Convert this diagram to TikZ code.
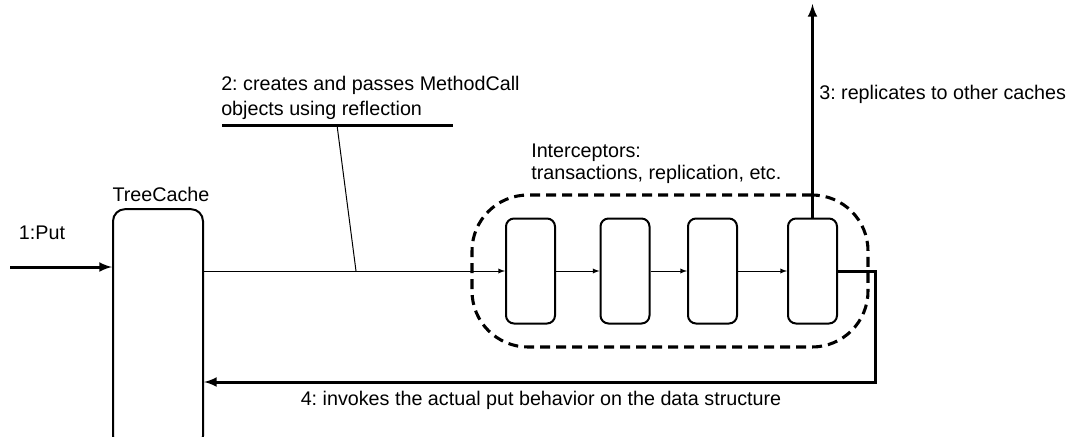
\documentclass[tikz,border=0pt]{standalone}
\usepackage{fontspec}
\setmainfont{Liberation Sans}
\usetikzlibrary{arrows}
\usetikzlibrary{positioning}
\frenchspacing

\begin{document}
\begin{tikzpicture}[x=0.75pt, y=-0.75pt,
    every node/.style={font=\fontsize{14.8}{18}\selectfont},
    box/.style={draw, line width=1.5pt, rounded corners=6pt, inner sep=0pt},
    label/.style={inner sep=0pt},
    thinarrow/.style={-latex, line width=0.75pt},
    thickarrow/.style={-latex, line width=2.25pt}]
  \useasboundingbox (0,0) rectangle (1070,436);

  % TreeCache
  \node[box, rounded corners=9pt, minimum width=67.5pt, minimum height=179pt] (tc) at (158,328.5) {};
  \node[label] (tclabel) at (161,194.5) {TreeCache};

  % Interceptor chain
  \node[box, minimum width=36.75pt, minimum height=78.75pt] (i1) at (530.5,271) {};
  \node[box, minimum width=36.75pt, minimum height=78.75pt] (i2) at (625,271) {};
  \node[box, minimum width=36.75pt, minimum height=78.75pt] (i3) at (712.5,271) {};
  \node[box, minimum width=36.75pt, minimum height=78.75pt] (i4) at (812.5,271) {};
  \node[draw, dash pattern=on 7.5pt off 4.5pt, line width=2.3pt, rounded corners=42pt,
        minimum width=297pt, minimum height=114pt] (chain) at (670,271) {};
  \node[label, anchor=west, align=left, font=\fontsize{14.8}{16.5}\selectfont] (chainlabel) at (531,164)
    {Interceptors:\\ transactions, replication, etc.};
  \draw[thinarrow] (i1.east) -- (i2.west);
  \draw[thinarrow] (i2.east) -- (i3.west);
  \draw[thinarrow] (i3.east) -- (i4.west);

  % 1: put
  \coordinate (putin) at (10,267);
  \draw[thickarrow] (putin) -- (putin -| tc.west);
  \node[label] (putlabel) at (42,233) {1:Put};

  % 2: method calls
  \draw[thinarrow] (tc.east |- i1.west) -- (i1.west);
  \node[label, anchor=west, align=left, font=\fontsize{14.8}{18.75}\selectfont] (calllabel) at (221,97.4)
    {2: creates and passes MethodCall\\objects using reflection};
  \coordinate (ulstart) at (222,125);
  \coordinate (ulend) at (453,125);
  \coordinate (leadtop) at (337,125);
  \coordinate (leadfoot) at (356,271);
  \draw[line width=2.25pt] (ulstart) -- (ulend);
  \draw[line width=0.75pt] (leadtop) -- (leadfoot);

  % 3: replication
  \coordinate (repl) at (812.5,4);
  \draw[thickarrow] (i4.north) -- (repl);
  \node[label, anchor=west] (repllabel) at (819,94) {3: replicates to other caches};

  % 4: back to the data structure
  \coordinate (ret) at (875,382);
  \draw[thickarrow] (i4.east) -| (ret) -- (ret -| tc.east);
  \node[label] (retlabel) at (541,400) {4: invokes the actual put behavior on the data structure};
\end{tikzpicture}
\end{document}
